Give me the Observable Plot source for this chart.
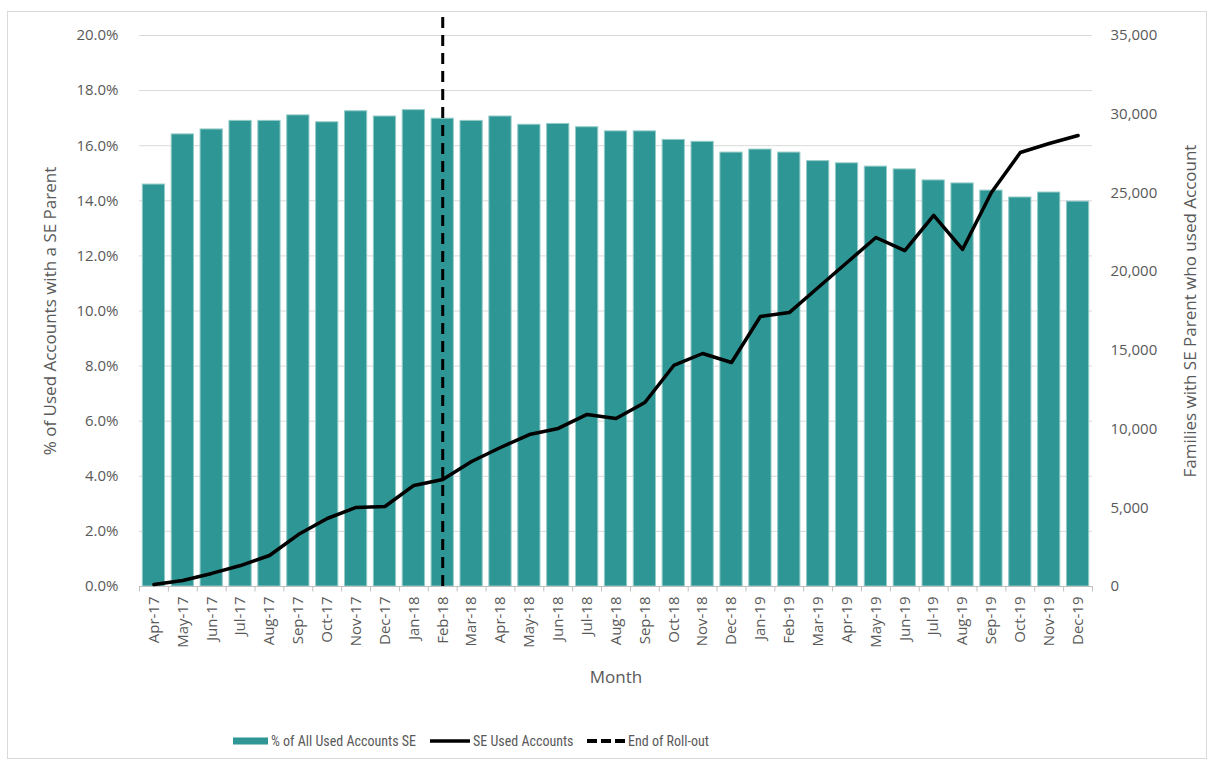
<!DOCTYPE html>
<html>
<head>
<meta charset="utf-8">
<script src="https://cdn.jsdelivr.net/npm/d3@7"></script>
<script src="https://cdn.jsdelivr.net/npm/@observablehq/plot@0.6"></script>
<style>
  body { margin: 0; background: #fff; }
  #wrap { position: relative; width: 1214px; height: 765px; overflow: hidden; font-family: "Open Sans", sans-serif; }
  #border { position: absolute; left: 7px; top: 11px; width: 1200px; height: 748px; border: 1px solid #d9d9d9; box-sizing: border-box; }
  #chart { position: absolute; left: 0; top: 0; }
  #legend { position: absolute; left: 0; top: 730px; width: 1214px; height: 22px; font-family: "Liberation Sans Narrow", "Arial Narrow", "Roboto Condensed", sans-serif; font-size: 14px; color: #595959; }
  .item { position: absolute; top: 0; display: flex; align-items: center; height: 22px; white-space: nowrap; }
  .item svg { margin-right: 3px; }
</style>
</head>
<body>
<div id="wrap">
  <div id="border"></div>
  <div id="chart"></div>
  <div id="legend"></div>
</div>
<script>
const months = ["Apr-17","May-17","Jun-17","Jul-17","Aug-17","Sep-17","Oct-17","Nov-17","Dec-17","Jan-18","Feb-18","Mar-18","Apr-18","May-18","Jun-18","Jul-18","Aug-18","Sep-18","Oct-18","Nov-18","Dec-18","Jan-19","Feb-19","Mar-19","Apr-19","May-19","Jun-19","Jul-19","Aug-19","Sep-19","Oct-19","Nov-19","Dec-19"];
const pctSE = [14.59,16.41,16.59,16.90,16.90,17.10,16.85,17.25,17.06,17.29,16.98,16.90,17.06,16.76,16.79,16.67,16.52,16.52,16.21,16.14,15.75,15.86,15.75,15.44,15.36,15.24,15.14,14.74,14.63,14.37,14.12,14.30,13.97];
const seUsed = [130,380,830,1330,1970,3300,4320,5020,5080,6420,6800,7940,8830,9650,10040,10930,10670,11690,14040,14800,14230,17150,17400,18990,20580,22170,21340,23570,21410,25030,27570,28140,28650];
const rolloutMonth = "Feb-18";
const leftTicks = [0,2,4,6,8,10,12,14,16,18,20];
const rightTicks = [0,5000,10000,15000,20000,25000,30000,35000];
const seriesNames = ["% of All Used Accounts SE", "SE Used Accounts", "End of Roll-out"];
const leftTitle = "% of Used Accounts with a SE Parent";
const rightTitle = "Families with SE Parent who used Account";
const xTitle = "Month";

const leftMax = 20;      // percent
const rightMax = 35000;  // families
const toLeft = v => v / rightMax * leftMax;

const barData = months.map((m, i) => ({month: m, pct: pctSE[i]}));
const lineData = months.map((m, i) => ({month: m, v: toLeft(seUsed[i])}));

const W = 1214, H = 700, mL = 139, mR = 122, mT = 35, mB = 114;
const step = (W - mL - mR) / months.length;
const textColor = "#595959";

const chart = Plot.plot({
  width: W, height: H,
  marginLeft: mL, marginRight: mR, marginTop: mT, marginBottom: mB,
  style: {fontFamily: "'Open Sans', sans-serif", fontSize: "15px", color: textColor, background: "transparent", overflow: "visible"},
  x: {type: "band", domain: months, paddingInner: 0.23, paddingOuter: 0.115, round: false},
  y: {domain: [0, leftMax]},
  marks: [
    Plot.gridY(leftTicks, {stroke: "#d9d9d9", strokeOpacity: 1, strokeWidth: 1}),
    Plot.barY(barData, {x: "month", y: "pct", fill: "#2E9694", stroke: "#93cbc8", strokeWidth: 1}),
    Plot.ruleY([0], {stroke: "#bfbfbf", strokeWidth: 1}),
    Plot.ruleX([...months, months[months.length - 1]], {x: d => d, y1: 0, y2: -0.2, stroke: "#bfbfbf", render: (index, scales, values, dims, ctx, next) => {
      const g = next(index, scales, values, dims, ctx);
      d3.select(g).selectAll("line").each(function(_, k) {
        const off = k === months.length ? step / 2 : -step / 2;
        d3.select(this).attr("transform", `translate(${off},0)`);
      });
      return g;
    }}),
    Plot.line(lineData, {x: "month", y: "v", stroke: "#000", strokeWidth: 3.5, strokeLinejoin: "round", strokeLinecap: "round"}),
    Plot.ruleX([rolloutMonth], {x: d => d, y1: 0, y2: leftMax * 573 / 551, stroke: "#000", strokeWidth: 3, strokeDasharray: "11,7"}),
    Plot.axisY(leftTicks, {anchor: "left", tickSize: 0, tickPadding: 21, tickFormat: d => d.toFixed(1) + "%", fill: textColor, fontSize: 15}),
    Plot.axisY(rightTicks.map(toLeft), {anchor: "right", tickSize: 0, tickPadding: 18, tickFormat: d => d3.format(",")(Math.round(d / leftMax * rightMax)), fill: textColor, fontSize: 15}),
    Plot.axisX({anchor: "bottom", tickSize: 0, tickPadding: 10, tickRotate: -90, fill: textColor, fontSize: 15, label: null}),
    Plot.text([leftTitle], {frameAnchor: "left", textAnchor: "middle", dx: -89, rotate: -90, fill: textColor, fontSize: 17}),
    Plot.text([rightTitle], {frameAnchor: "right", textAnchor: "middle", dx: 98, dy: 0, rotate: -90, fill: textColor, fontSize: 17}),
    Plot.text([xTitle], {frameAnchor: "bottom", dy: 96, fill: textColor, fontSize: 17})
  ]
});
document.getElementById("chart").appendChild(chart);

// Legend
const legend = document.getElementById("legend");
const items = [
  {left: 233, sw: `<svg width="35" height="10"><rect x="0" y="1.5" width="35" height="7" fill="#2E9694"/></svg>`},
  {left: 430, sw: `<svg width="40" height="10"><line x1="0" y1="5" x2="40" y2="5" stroke="#000" stroke-width="3.5"/></svg>`},
  {left: 587, sw: `<svg width="38" height="10"><line x1="0" y1="5" x2="38" y2="5" stroke="#000" stroke-width="4" stroke-dasharray="10,4"/></svg>`}
];
items.forEach((it, i) => {
  const d = document.createElement("div");
  d.className = "item";
  d.style.left = it.left + "px";
  d.innerHTML = it.sw + `<span>${seriesNames[i]}</span>`;
  legend.appendChild(d);
});
</script>
</body>
</html>
